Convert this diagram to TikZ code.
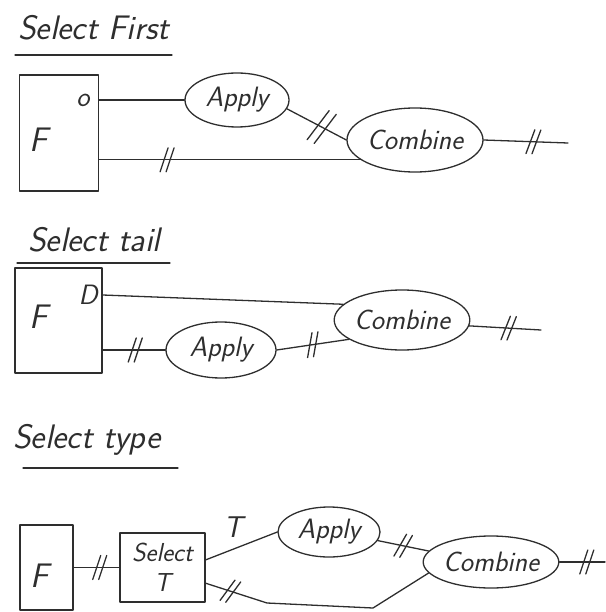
\documentclass[tikz,border=0pt]{standalone}
\usepackage{fontspec}
\usetikzlibrary{shapes.geometric,decorations.markings}
\definecolor{inkc}{HTML}{2E2E2E}
\newcommand{\handfont}{\sffamily\itshape}
\tikzset{
  ink/.style={draw=inkc, line width=1.3pt, line cap=round, line join=round},
  blob/.style={ink, ellipse, inner sep=0pt, text=inkc, font=\handfont\fontsize{28}{32}\selectfont},
  fbox/.style={ink, rectangle, inner sep=0pt},
  lbl/.style={inner sep=0pt, text=inkc, font=\handfont\fontsize{34}{38}\selectfont},
  ttl/.style={inner sep=0pt, text=inkc, anchor=west, font=\handfont\fontsize{34}{38}\selectfont},
  hash/.style={postaction={decorate, decoration={markings, mark=at position #1 with {
      \draw[ink] (-7,12) -- (1,-12); \draw[ink] (-1,12) -- (7,-12);}}}},
  bighash/.style={postaction={decorate, decoration={markings, mark=at position #1 with {
      \draw[ink] (-8,18) -- (-2,-18); \draw[ink] (0,18) -- (6,-18);}}}},
}
\begin{document}
\begin{tikzpicture}[x=1pt, y=-1pt]
\useasboundingbox (0,0) rectangle (605,612);

% ---------- Section 1: Select First ----------
\node[ttl] (t1) at (18,28) {Select First};
\draw[ink] (15,55) -- (172,55);
\node[fbox, minimum width=79pt, minimum height=116pt] (f1) at (59,133) {};
\node[lbl] (f1F) at (39,140) {F};
\node[lbl, font=\handfont\fontsize{28}{30}\selectfont] (f1o) at (83,100) {o};
\node[blob, minimum width=104pt, minimum height=54pt] (a1) at (237,100) {Apply};
\node[blob, minimum width=136pt, minimum height=64pt] (c1) at (415,140) {Combine};
\coordinate (o1) at (568,143);
\draw[ink] (f1.east |- a1.west) -- (a1.west);
\draw[ink, bighash=0.6] (a1.-10) -- (c1.west);
\draw[ink, hash=0.26] (f1.east |- c1.200) -- (c1.200);
\draw[ink, hash=0.59] (c1.east) -- (o1);

% ---------- Section 2: Select tail ----------
\node[ttl] (t2) at (28,240) {Select tail};
\draw[ink] (17,263) -- (170,263);
\node[fbox, minimum width=87pt, minimum height=105pt] (f2) at (58.5,320.5) {};
\node[lbl] (f2F) at (39,317) {F};
\node[lbl, font=\handfont\fontsize{28}{30}\selectfont] (f2D) at (88,295) {D};
\node[blob, minimum width=110pt, minimum height=56pt] (a2) at (221,350) {Apply};
\node[blob, minimum width=124pt, minimum height=60pt] (c2) at (402,320) {Combine};
\coordinate (o2) at (541,330);
\draw[ink] (f2.east |- f2D) -- (c2.165);
\draw[ink, hash=0.52] (f2.east |- a2.west) -- (a2.west);
\draw[ink, hash=0.5] (a2.east) -- (c2.200);
\draw[ink, hash=0.55] (c2.-5) -- (o2);

% ---------- Section 3: Select type ----------
\node[ttl] (t3) at (13,440) {Select type};
\draw[ink] (23,468) -- (178,468);
\node[fbox, minimum width=53pt, minimum height=85pt] (f3) at (46.5,567.5) {};
\node[lbl] (f3F) at (40,576) {F};
\node[fbox, minimum width=85pt, minimum height=69pt, align=center, text=inkc,
      font=\handfont\fontsize{26}{30}\selectfont] (s3) at (162.5,567.5) {Select\\T};
\node[blob, minimum width=102pt, minimum height=50pt] (a3) at (329,532) {Apply};
\node[blob, minimum width=118pt, minimum height=52pt] (c3) at (491,562) {Combine};
\coordinate (lowA) at (267,603);
\coordinate (lowB) at (373,608);
\coordinate (o3) at (605,562);
\draw[ink, hash=0.57] (f3.east) -- (s3.west);
\draw[ink] (s3.10) -- (a3.west);
\node[lbl, font=\handfont\fontsize{30}{32}\selectfont] (tT) at (233,527) {T};
\draw[ink, hash=0.5] (a3.-10) -- (c3.170);
\draw[ink, hash=0.11] (s3.-20) -- (lowA) -- (lowB) -- (c3.190);
\draw[ink, hash=0.6] (c3.east) -- (o3);
\end{tikzpicture}
\end{document}
